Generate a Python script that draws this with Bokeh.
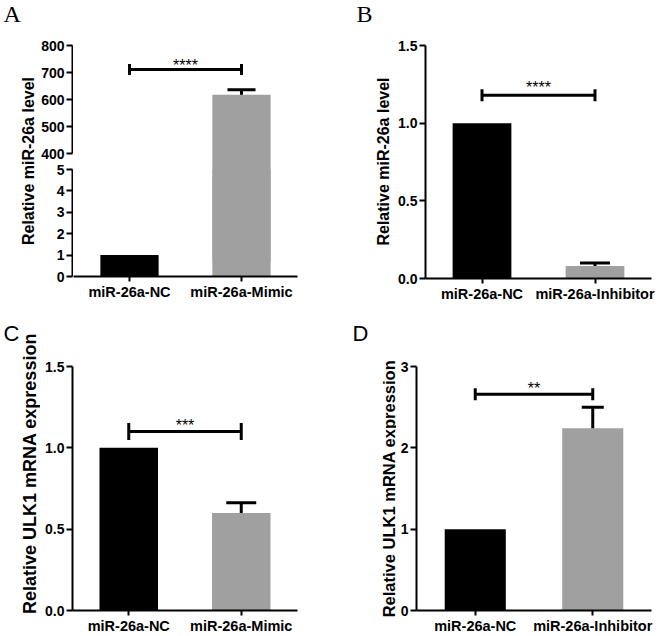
import math
from bokeh.plotting import figure
from bokeh.models import Range1d, FactorRange, FixedTicker, ColumnDataSource, NumeralTickFormatter
from bokeh.layouts import row, column
from bokeh.embed import file_html
from bokeh.resources import INLINE
from bokeh.core.properties import value

# ---------------- data ----------------
cats_A = ["miR-26a-NC", "miR-26a-Mimic"]
vals_A = [1.0, 618.0]
errs_A = [0.0, 19.0]
sig_A = 711.0
stars_A = "****"
yticks_A_low = [0, 1, 2, 3, 4, 5]
yticks_A_high = [400, 500, 600, 700, 800]
ylabel_A = "Relative miR-26a level"

cats_B = ["miR-26a-NC", "miR-26a-Inhibitor"]
vals_B = [1.0, 0.08]
errs_B = [0.0, 0.02]
sig_B = 1.18
stars_B = "****"
yticks_B = [0.0, 0.5, 1.0, 1.5]
ylabel_B = "Relative miR-26a level"

cats_C = ["miR-26a-NC", "miR-26a-Mimic"]
vals_C = [1.0, 0.60]
errs_C = [0.0, 0.063]
sig_C = 1.10
stars_C = "***"
yticks_C = [0.0, 0.5, 1.0, 1.5]
ylabel_C = "Relative ULK1 mRNA expression"

cats_D = ["miR-26a-NC", "miR-26a-Inhibitor"]
vals_D = [1.0, 2.24]
errs_D = [0.0, 0.26]
sig_D = 2.66
stars_D = "**"
yticks_D = [0, 1, 2, 3]
ylabel_D = "Relative ULK1 mRNA expression"

BAR_COLORS = ["#000000", "#a0a0a0"]
FONT = "Liberation Sans"
SERIF = "Liberation Serif"


def style_axes(p):
    p.grid.visible = False
    p.outline_line_color = None
    p.background_fill_color = "white"
    p.border_fill_color = "white"
    for ax in p.axis:
        ax.axis_line_width = 2
        ax.axis_line_color = "black"
        ax.major_tick_line_width = 2
        ax.major_tick_line_color = "black"
        ax.major_tick_in = 0
        ax.minor_tick_line_color = None
        ax.major_label_text_font = FONT
        ax.major_label_text_font_style = "bold"
        ax.major_label_text_color = "black"
    for ax in p.yaxis:
        ax.major_tick_out = 6
        ax.major_label_text_font_size = "14px"
        ax.major_label_standoff = 2
    for ax in p.xaxis:
        ax.major_tick_out = 5
        ax.major_label_text_font_size = "14.5px"
        ax.major_label_standoff = 2


def base_fig(cats, y0, y1, w, h, bl, br, bt, bb, show_y=True, **kw):
    p = figure(x_range=FactorRange(factors=cats, range_padding=0, factor_padding=0),
               y_range=Range1d(y0, y1), width=w, height=h, title=None,
               min_border_left=bl, min_border_right=br, min_border_top=bt, min_border_bottom=bb,
               output_backend="svg", toolbar_location=None,
               y_axis_type="linear" if show_y else None, **kw)
    style_axes(p)
    return p


def axis_fig(y0, y1, ticks, w, h, bt, bb):
    # figure that only carries a y axis (for the broken axis of panel A)
    p = figure(x_range=Range1d(0, 1), y_range=Range1d(y0, y1), width=w, height=h, title=None,
               min_border_left=w - 1, min_border_right=0, min_border_top=bt, min_border_bottom=bb,
               output_backend="svg", toolbar_location=None, x_axis_type=None)
    style_axes(p)
    p.yaxis.ticker = FixedTicker(ticks=ticks)
    p.yaxis.bounds = (ticks[0], ticks[-1])
    return p


def label_fig(w, h, letter, lx, ly, lfont, lsize, ylabel, ax_x, ax_y, ax_size):
    p = figure(x_range=Range1d(0, w), y_range=Range1d(0, h), width=w, height=h, title=None,
               min_border=0, x_axis_type=None, y_axis_type=None,
               output_backend="svg", toolbar_location=None)
    p.grid.visible = False
    p.outline_line_color = None
    p.text(x=[lx], y=[ly], text=[letter], text_font=value(lfont), text_font_size=lsize,
           text_align="left", text_baseline="middle", text_color="black")
    p.text(x=[ax_x], y=[ax_y], text=[ylabel], angle=math.pi / 2, text_font=value(FONT),
           text_font_style="bold", text_font_size=ax_size, text_align="center",
           text_baseline="middle", text_color="black")
    return p


def draw_err(p, cats, vals, errs, cap, **kw):
    ex = [c for c, e in zip(cats, errs) if e > 0]
    ey0 = [v for v, e in zip(vals, errs) if e > 0]
    ey1 = [v + e for v, e in zip(vals, errs) if e > 0]
    p.segment(x0=ex, y0=ey0, x1=ex, y1=ey1, line_color="black", line_width=3, **kw)
    p.scatter(x=ex, y=ey1, marker="dash", size=cap, line_color="black", line_width=3, **kw)


def draw_bars(p, cats, vals, errs, cap):
    src = ColumnDataSource(dict(x=cats, top=vals, color=BAR_COLORS[:len(cats)]))
    p.vbar(x="x", top="top", bottom=0, width=0.52, fill_color="color", line_color=None, source=src)
    draw_err(p, cats, vals, errs, cap)


def draw_sig(p, cats, sig, stars, tick, yoff, **kw):
    p.segment(x0=[cats[0]], y0=[sig], x1=[cats[1]], y1=[sig], line_color="black", line_width=3, **kw)
    p.scatter(x=cats, y=[sig, sig], marker="dash", angle=math.pi / 2, size=tick,
              line_color="black", line_width=3, **kw)
    p.text(x=[len(cats) / 2], y=[sig], text=[stars], text_align="center",
           text_baseline="middle", text_font=value(FONT), text_font_size="16px",
           text_color="black", y_offset=yoff, **kw)


# ---------------- panel A (broken axis) ----------------
# pixel layout of the broken axis (screen rows inside the 318 px panel)
A_TOP, A_JOIN, A_BOTTOM = 45, 161, 276        # frame top, axis break join, frame bottom
A_HI_SCALE = (153.3 - A_TOP) / (yticks_A_high[-1] - yticks_A_high[0])   # px per unit, upper part
A_LO_SCALE = (A_BOTTOM - 169.0) / (yticks_A_low[-1] - yticks_A_low[0])  # px per unit, lower part

labA = label_fig(38, 318, "A", 3, 305, SERIF, "24px", ylabel_A, 28.3, 157.5, "16px")

axUp = axis_fig(yticks_A_high[-1] - (A_JOIN - A_TOP) / A_HI_SCALE, yticks_A_high[-1],
                yticks_A_high, 35, A_JOIN, A_TOP, 0)
axLo = axis_fig(0, (A_BOTTOM - A_JOIN) / A_LO_SCALE, yticks_A_low, 35, 318 - A_JOIN, 0, 318 - A_BOTTOM)

lo_end = (A_BOTTOM - A_TOP) / A_LO_SCALE
hi_start = yticks_A_high[-1] - (A_BOTTOM - A_TOP) / A_HI_SCALE
barA = base_fig(cats_A, 0, lo_end, 257, 318, 0, 33, A_TOP, 318 - A_BOTTOM, show_y=False,
                extra_y_ranges={"upper": Range1d(hi_start, yticks_A_high[-1])})
# lower segment (values cut at the axis break) and upper segment of each bar
break_lo = yticks_A_low[-1]
srcA_lo = ColumnDataSource(dict(x=cats_A, top=[min(v, break_lo) for v in vals_A], color=BAR_COLORS))
barA.vbar(x="x", top="top", bottom=0, width=0.52, fill_color="color", line_color=None, source=srcA_lo)
hi_idx = [i for i, v in enumerate(vals_A) if v > break_lo]
srcA_hi = ColumnDataSource(dict(x=[cats_A[i] for i in hi_idx], top=[vals_A[i] for i in hi_idx],
                                color=[BAR_COLORS[i] for i in hi_idx]))
barA.vbar(x="x", top="top", bottom=0, width=0.52, fill_color="color", line_color=None,
          source=srcA_hi, y_range_name="upper")
draw_err(barA, cats_A, vals_A, errs_A, 28, y_range_name="upper")
draw_sig(barA, cats_A, sig_A, stars_A, 11, -4.5, y_range_name="upper")

panelA = row(column(labA), column(axUp, axLo), column(barA))

# ---------------- panel B ----------------
labB = label_fig(63, 318, "B", 26, 305, SERIF, "24px", ylabel_B, 52.7, 157, "16px")
pB = base_fig(cats_B, 0, 1.5, 267, 318, 32, 9, 45, 40)
pB.yaxis.ticker = FixedTicker(ticks=yticks_B)
pB.yaxis.formatter = NumeralTickFormatter(format="0.0")
draw_bars(pB, cats_B, vals_B, errs_B, 30)
draw_sig(pB, cats_B, sig_B, stars_B, 12, -7.5)
panelB = row(column(labB), column(pB))

# ---------------- panel C ----------------
labC = label_fig(40, 318, "C", 3, 303, FONT, "22px", ylabel_C, 29, 163, "18px")
pC = base_fig(cats_C, 0, 1.5, 290, 318, 32, 33, 48, 24)
pC.yaxis.ticker = FixedTicker(ticks=yticks_C)
pC.yaxis.formatter = NumeralTickFormatter(format="0.0")
draw_bars(pC, cats_C, vals_C, errs_C, 30)
draw_sig(pC, cats_C, sig_C, stars_C, 17, -6.5)
panelC = row(column(labC), column(pC))

# ---------------- panel D ----------------
labD = label_fig(66, 318, "D", 22, 303, FONT, "22px", ylabel_D, 58, 148, "16.5px")
pD = base_fig(cats_D, 0, 3, 264, 318, 20, 9, 48, 25)
pD.yaxis.ticker = FixedTicker(ticks=yticks_D)
draw_bars(pD, cats_D, vals_D, errs_D, 22)
draw_sig(pD, cats_D, sig_D, stars_D, 12, -6)
panelD = row(column(labD), column(pD))

layout = column(row(panelA, panelB), row(panelC, panelD))

with open("out.html", "w") as f:
    f.write(file_html(layout, INLINE))
